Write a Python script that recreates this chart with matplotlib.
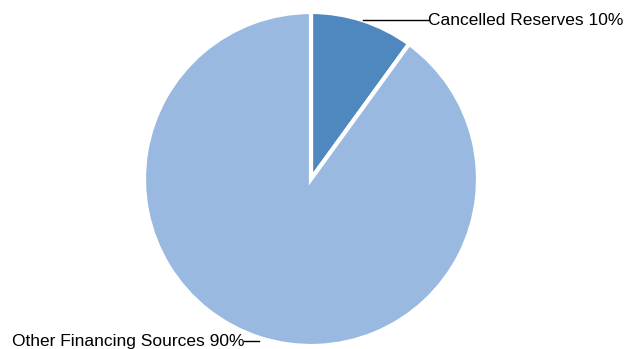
import numpy as np
import matplotlib
matplotlib.use('Agg')
import matplotlib.pyplot as plt

labels = ['Cancelled Reserves', 'Other Financing Sources']
shares = [10, 90]
colors = ['#4F88BE', '#99B9E1']

plt.rcParams['font.family'] = ['Liberation Sans', 'DejaVu Sans']

W, H = 624, 349
fig = plt.figure(figsize=(W / 100, H / 100), dpi=100)
ax = fig.add_axes([0, 0, 1, 1])

cx, cy, r = 311, H - 179, 167
wedges, _ = ax.pie(shares, colors=colors, startangle=90, counterclock=False,
                   center=(cx, cy), radius=r, explode=[0.02, 0],
                   wedgeprops=dict(edgecolor='white', linewidth=3),
                   frame=True)
ax.set_xlim(0, W)
ax.set_ylim(0, H)
ax.set_aspect('equal')
ax.axis('off')

for w, lab, val in zip(wedges, labels, shares):
    ang = np.deg2rad((w.theta1 + w.theta2) / 2)
    x0 = w.center[0] + r * np.cos(ang)
    y0 = w.center[1] + r * np.sin(ang)
    txt = f'{lab} {val}%'
    if np.cos(ang) > 0:
        x1 = x0 + 65
        ax.plot([x0, x1], [y0, y0], color='black', lw=1)
        ax.text(x1, y0, txt, ha='left', va='center', fontsize=12.5)
    else:
        y0 -= 3
        x1 = x0 - 15
        ax.plot([x0, x1], [y0, y0], color='black', lw=1)
        ax.text(x1, y0 - 1, txt, ha='right', va='center', fontsize=12.5)

fig.savefig('out.png', dpi=100)
